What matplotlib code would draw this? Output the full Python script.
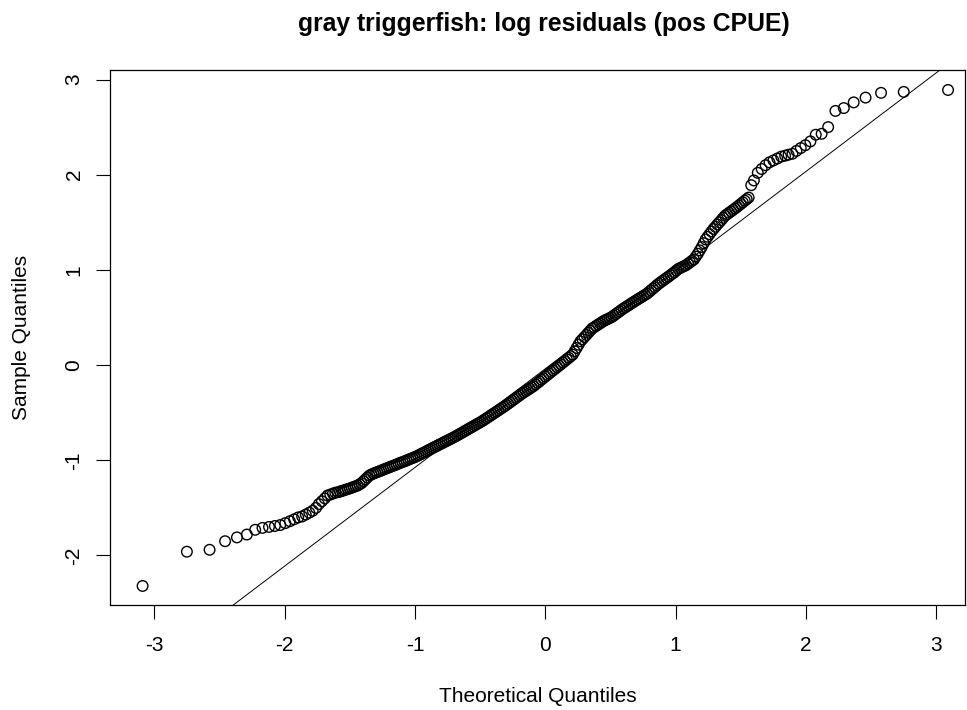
import matplotlib
matplotlib.use("Agg")
import matplotlib.pyplot as plt
import numpy as np

plt.rcParams['font.family'] = ['Liberation Sans', 'DejaVu Sans']
plt.rcParams['axes.unicode_minus'] = False

# lower tail: theoretical vs sample quantiles
theo_low = [-3.09, -2.75, -2.576, -2.457, -2.366, -2.290, -2.226, -2.170, -2.120,
            -2.075, -2.034, -1.995, -1.960, -1.927, -1.896, -1.866, -1.838, -1.811,
            -1.785, -1.760, -1.737, -1.714, -1.692, -1.671, -1.650, -1.630, -1.611]
samp_low = [-2.32, -1.96, -1.94, -1.85, -1.81, -1.78, -1.73, -1.71, -1.70,
            -1.69, -1.68, -1.66, -1.64, -1.62, -1.60, -1.59, -1.57, -1.55,
            -1.53, -1.50, -1.46, -1.43, -1.40, -1.37, -1.36, -1.35, -1.34]

# dense middle section (points overlap into a solid band)
theo_mid = [-1.59, -1.575, -1.56, -1.545, -1.53, -1.515, -1.50, -1.485, -1.47, -1.455,
            -1.44, -1.425, -1.41, -1.395, -1.38, -1.365, -1.35, -1.335, -1.32, -1.305,
            -1.29, -1.275, -1.26, -1.245, -1.23, -1.215, -1.20, -1.185, -1.17, -1.155,
            -1.14, -1.125, -1.11, -1.095, -1.08, -1.065, -1.05, -1.035, -1.02, -1.005,
            -0.99, -0.975, -0.96, -0.945, -0.93, -0.915, -0.90, -0.885, -0.87, -0.855,
            -0.84, -0.825, -0.81, -0.795, -0.78, -0.765, -0.75, -0.735, -0.72, -0.705,
            -0.69, -0.675, -0.66, -0.645, -0.63, -0.615, -0.60, -0.585, -0.57, -0.555,
            -0.54, -0.525, -0.51, -0.495, -0.48, -0.465, -0.45, -0.435, -0.42, -0.405,
            -0.39, -0.375, -0.36, -0.345, -0.33, -0.315, -0.30, -0.285, -0.27, -0.255,
            -0.24, -0.225, -0.21, -0.195, -0.18, -0.165, -0.15, -0.135, -0.12, -0.105,
            -0.09, -0.075, -0.06, -0.045, -0.03, -0.015, 0.00, 0.015, 0.03, 0.045,
            0.06, 0.075, 0.09, 0.105, 0.12, 0.135, 0.15, 0.165, 0.18, 0.195,
            0.21, 0.225, 0.24, 0.255, 0.27, 0.285, 0.30, 0.315, 0.33, 0.345,
            0.36, 0.375, 0.39, 0.405, 0.42, 0.435, 0.45, 0.465, 0.48, 0.495,
            0.51, 0.525, 0.54, 0.555, 0.57, 0.585, 0.60, 0.615, 0.63, 0.645,
            0.66, 0.675, 0.69, 0.705, 0.72, 0.735, 0.75, 0.765, 0.78, 0.795,
            0.81, 0.825, 0.84, 0.855, 0.87, 0.885, 0.90, 0.915, 0.93, 0.945,
            0.96, 0.975, 0.99, 1.005, 1.02, 1.035, 1.05, 1.065, 1.08, 1.095,
            1.11, 1.125, 1.14, 1.155, 1.17, 1.185, 1.20, 1.215, 1.23, 1.245,
            1.26, 1.275, 1.29, 1.305, 1.32, 1.335, 1.35, 1.365, 1.38, 1.395,
            1.41, 1.425, 1.44, 1.455, 1.47, 1.485, 1.50, 1.515, 1.53, 1.545, 1.56]
samp_mid = [-1.335, -1.328, -1.322, -1.315, -1.308, -1.302, -1.295, -1.288, -1.28, -1.272,
            -1.265, -1.252, -1.24, -1.22, -1.20, -1.18, -1.16, -1.15, -1.14, -1.132,
            -1.124, -1.116, -1.108, -1.099, -1.091, -1.083, -1.075, -1.067, -1.059, -1.051,
            -1.043, -1.034, -1.026, -1.018, -1.01, -1.002, -0.993, -0.985, -0.977, -0.968,
            -0.96, -0.949, -0.939, -0.928, -0.918, -0.907, -0.896, -0.886, -0.875, -0.865,
            -0.854, -0.844, -0.833, -0.823, -0.812, -0.802, -0.792, -0.781, -0.771, -0.76,
            -0.75, -0.738, -0.726, -0.715, -0.703, -0.691, -0.679, -0.667, -0.656, -0.644,
            -0.632, -0.62, -0.609, -0.597, -0.585, -0.571, -0.558, -0.544, -0.53, -0.516,
            -0.503, -0.489, -0.475, -0.461, -0.448, -0.434, -0.42, -0.405, -0.39, -0.375,
            -0.36, -0.345, -0.33, -0.315, -0.30, -0.287, -0.273, -0.26, -0.247, -0.233,
            -0.22, -0.203, -0.187, -0.17, -0.153, -0.137, -0.12, -0.104, -0.088, -0.071,
            -0.055, -0.039, -0.022, -0.006, 0.01, 0.027, 0.043, 0.06, 0.077, 0.093,
            0.11, 0.145, 0.18, 0.215, 0.25, 0.272, 0.295, 0.317, 0.34, 0.362,
            0.385, 0.398, 0.412, 0.425, 0.438, 0.452, 0.465, 0.475, 0.485, 0.495,
            0.505, 0.52, 0.535, 0.55, 0.565, 0.58, 0.595, 0.608, 0.621, 0.634,
            0.648, 0.661, 0.674, 0.687, 0.70, 0.712, 0.725, 0.738, 0.75, 0.768,
            0.785, 0.803, 0.82, 0.838, 0.855, 0.87, 0.885, 0.90, 0.915, 0.93,
            0.945, 0.96, 0.975, 0.993, 1.01, 1.02, 1.03, 1.04, 1.05, 1.065,
            1.08, 1.095, 1.11, 1.14, 1.17, 1.205, 1.24, 1.28, 1.32, 1.348,
            1.375, 1.403, 1.43, 1.453, 1.477, 1.50, 1.523, 1.547, 1.57, 1.585,
            1.60, 1.615, 1.63, 1.645, 1.66, 1.677, 1.693, 1.71, 1.727, 1.743, 1.76]

# upper tail
theo_high = [1.58, 1.60, 1.63, 1.66, 1.69, 1.72, 1.75, 1.78, 1.81, 1.84,
             1.866, 1.896, 1.927, 1.960, 1.995, 2.034, 2.075, 2.120, 2.170, 2.226,
             2.290, 2.366, 2.457, 2.576, 2.75, 3.09]
samp_high = [1.89, 1.94, 2.02, 2.06, 2.10, 2.13, 2.15, 2.17, 2.19, 2.20,
             2.21, 2.22, 2.25, 2.28, 2.31, 2.35, 2.42, 2.43, 2.50, 2.67,
             2.70, 2.76, 2.81, 2.86, 2.87, 2.89]

theo = np.array(theo_low + theo_mid + theo_high)
samp = np.array(samp_low + samp_mid + samp_high)

fig = plt.figure(figsize=(9.67, 7.10), dpi=100)
ax = fig.add_axes([110/967, 1 - 605/710, 855/967, 535/710])

ax.scatter(theo, samp, s=58, facecolors='none', edgecolors='black', linewidths=1.0)

# reference line through the quartiles (like qqline)
q = 0.6745
y1, y3 = np.interp([-q, q], theo, samp)
slope = (y3 - y1) / (2 * q)
icpt = (y1 + y3) / 2
ax.axline((0, icpt), slope=slope, color='black', lw=0.7)

ax.set_xlim(-3.34, 3.22)
ax.set_ylim(-2.52, 3.10)
ax.set_xticks([-3, -2, -1, 0, 1, 2, 3])
ax.set_yticks([-2, -1, 0, 1, 2, 3])
ax.tick_params(length=10, width=0.8, labelsize=15)
ax.tick_params(axis='x', pad=12)
ax.tick_params(axis='y', pad=9)
plt.setp(ax.get_yticklabels(), rotation=90, va='center')
for s in ax.spines.values():
    s.set_linewidth(0.9)

ax.set_xlabel('Theoretical Quantiles', fontsize=15, labelpad=23)
ax.set_ylabel('Sample Quantiles', fontsize=15, labelpad=24)
ax.set_title('gray triggerfish: log residuals (pos CPUE)', fontsize=17.8,
             fontweight='bold', pad=28, x=0.508)

fig.savefig('out.png', dpi=100)
